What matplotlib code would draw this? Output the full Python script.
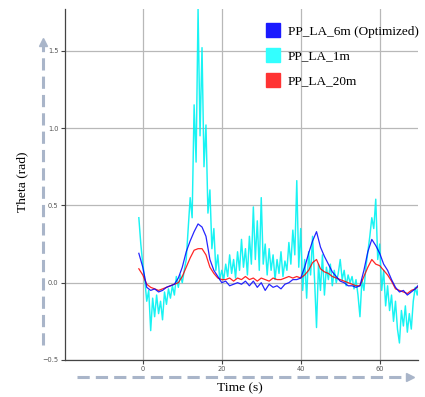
import numpy as np
import matplotlib
matplotlib.use('Agg')
import matplotlib.pyplot as plt
from matplotlib.lines import Line2D

# PP_LA_1m, sampled every 0.5 s from t = -1
theta_1m = [
    0.42, 0.25, 0.12, 0.02, -0.12, -0.05, -0.31, -0.10, -0.22, -0.08,
    -0.20, -0.12, -0.24, -0.06, -0.14, -0.04, -0.10, -0.02, -0.08, 0.04,
    -0.03, 0.05, 0.00, 0.08, 0.15, 0.35, 0.55, 0.42, 1.15, 0.78,
    1.77, 0.95, 1.52, 0.75, 1.02, 0.45, 0.60, 0.22, 0.35, 0.08,
    0.18, 0.02, 0.08, 0.02, 0.12, 0.04, 0.18, 0.06, 0.15, 0.03,
    0.20, 0.08, 0.28, 0.10, 0.22, 0.05, 0.30, 0.12, 0.49, 0.15,
    0.40, 0.08, 0.55, 0.12, 0.25, 0.05, 0.22, 0.08, 0.18, 0.02,
    0.15, 0.06, 0.20, 0.04, 0.14, 0.08, 0.26, 0.12, 0.34, 0.18,
    0.66, 0.10, 0.35, -0.05, 0.15, -0.10, 0.20, 0.05, 0.30, 0.02,
    -0.29, 0.12, -0.05, 0.18, -0.08, 0.10, 0.02, 0.12, -0.02, 0.08,
    0.00, 0.06, 0.15, 0.02, 0.08, -0.02, 0.05, 0.00, 0.04, -0.04,
    0.02, -0.08, -0.22, 0.02, -0.05, 0.10, 0.20, 0.30, 0.42, 0.35,
    0.54, 0.15, 0.25, -0.05, 0.08, -0.15, -0.02, -0.18, -0.08, -0.25,
    -0.12, -0.30, -0.39, -0.18, -0.28, -0.15, -0.32, -0.20, -0.30, -0.12,
    -0.03, -0.08, 0.00,
]

# PP_LA_6m (Optimized), every 1 s from t = -1
theta_6m = [
    0.19, 0.10, -0.03, -0.05, -0.04, -0.06, -0.05, -0.03, -0.02, -0.01,
    0.03, 0.10, 0.20, 0.27, 0.33, 0.38, 0.36, 0.30, 0.15, 0.08,
    0.04, 0.00, 0.01, -0.02, -0.01, 0.00, -0.01, 0.01, -0.02, 0.01,
    -0.03, 0.00, -0.05, -0.01, -0.03, -0.02, -0.04, -0.01, 0.00, 0.02,
    0.02, 0.03, 0.10, 0.19, 0.27, 0.33, 0.23, 0.17, 0.12, 0.07,
    0.04, 0.01, 0.00, -0.02, -0.02, -0.03, -0.02, 0.08, 0.20, 0.28,
    0.24, 0.19, 0.12, 0.08, 0.02, -0.03, -0.06, -0.05, -0.08, -0.06,
    -0.04, -0.01,
]

# PP_LA_20m, every 1 s from t = -1
theta_20m = [
    0.09, 0.05, -0.01, -0.03, -0.04, -0.05, -0.04, -0.03, -0.02, -0.01,
    0.00, 0.04, 0.10, 0.16, 0.21, 0.22, 0.22, 0.18, 0.10, 0.06,
    0.03, 0.02, 0.02, 0.03, 0.01, 0.03, 0.02, 0.04, 0.02, 0.03,
    0.01, 0.03, 0.02, 0.01, 0.03, 0.02, 0.02, 0.03, 0.04, 0.03,
    0.04, 0.03, 0.05, 0.08, 0.13, 0.15, 0.09, 0.07, 0.06, 0.04,
    0.03, 0.02, 0.01, 0.00, -0.01, -0.02, -0.02, 0.04, 0.10, 0.15,
    0.12, 0.11, 0.08, 0.05, 0.01, -0.04, -0.05, -0.06, -0.07, -0.05,
    -0.04, -0.02,
]

labels = ['PP_LA_6m (Optimized)', 'PP_LA_1m', 'PP_LA_20m']
colors = ['#1a1aff', '#33ffff', '#ff3333']

# time bases (s)
t_fast = -1 + 0.5 * np.arange(len(theta_1m))
t_slow = -1 + 1.0 * np.arange(len(theta_6m))

W, H = 425, 397
fig = plt.figure(figsize=(W / 100, H / 100), dpi=100)
ax = fig.add_axes([65 / W, 1 - 360 / H, (418 - 65) / W, (360 - 9) / H])

ax.plot(t_fast, theta_1m, color='#00f2f2', lw=1.05, alpha=0.9, zorder=3)
ax.plot(t_slow, theta_20m, color='red', lw=0.9, alpha=0.85, zorder=4)
ax.plot(t_slow, theta_6m, color='blue', lw=0.9, alpha=0.85, zorder=5)

ax.set_xlim(-19.7, 69.7)
ax.set_ylim(-0.5, 1.77)
ax.set_xticks([0, 20, 40, 60])
ax.set_yticks([-0.5, 0.0, 0.5, 1.0, 1.5])
ax.set_yticklabels(['\u22120.5', '0.0', '0.5', '1.0', '1.5'])
ax.grid(True, color='#b8b8b8', lw=0.9)
ax.set_axisbelow(True)
for side in ['top', 'right']:
    ax.spines[side].set_visible(False)
for side in ['left', 'bottom']:
    ax.spines[side].set_color('#444444')
    ax.spines[side].set_linewidth(0.9)
ax.tick_params(labelsize=4.8, labelcolor='#555555', color='#444444',
               length=3, width=0.8, pad=1.5)

# legend with square patches
handles = [Line2D([], [], ls='none', marker='s', markersize=9.5,
                  markerfacecolor=c, markeredgecolor=c) for c in colors]
ax.legend(handles, labels, loc='upper right', bbox_to_anchor=(1.035, 0.987),
          frameon=False, prop={'family': 'Liberation Serif', 'size': 9.5},
          handlelength=1.0, handletextpad=0.6, labelspacing=0.95)

# axis titles
fig.text(22 / W, 1 - 182 / H, 'Theta (rad)', rotation=90, ha='center', va='center',
         family='Liberation Serif', fontsize=9.7)
fig.text(240 / W, 1 - 388 / H, 'Time (s)', ha='center', va='center',
         family='Liberation Serif', fontsize=9.7)

# dashed arrows beside the axes
arrow_c = '#a9b5c9'
fig.add_artist(Line2D([43 / W, 43 / W], [1 - 345 / H, 1 - 46 / H], color=arrow_c,
                      lw=2.2, ls=(0, (4, 2))))
fig.add_artist(Line2D([43 / W], [1 - 42 / H], color=arrow_c, marker='^', markersize=6))
fig.add_artist(Line2D([77 / W, 406 / W], [1 - 377 / H, 1 - 377 / H], color=arrow_c,
                      lw=2.2, ls=(0, (4, 2))))
fig.add_artist(Line2D([410 / W], [1 - 377 / H], color=arrow_c, marker='>', markersize=6))

fig.savefig('out.png', dpi=100)
